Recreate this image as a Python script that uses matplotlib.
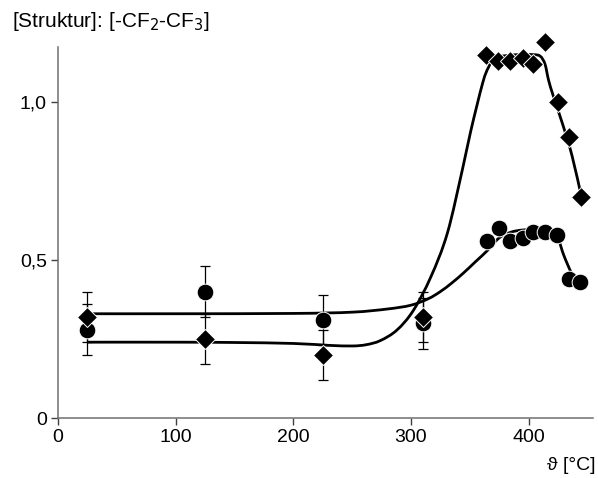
import matplotlib.pyplot as plt
from matplotlib.path import Path
from matplotlib.patches import PathPatch

plt.rcParams['font.family'] = ['Liberation Sans', 'DejaVu Sans']

# measured points, circles: -CF3 / diamonds: -CF2-
circ_x = [25, 125, 225, 310, 365, 375, 384, 395, 404, 414, 424, 434, 444]
circ_y = [0.28, 0.40, 0.31, 0.30, 0.56, 0.60, 0.56, 0.57, 0.59, 0.59, 0.58, 0.44, 0.43]
circ_err_x = [25, 125, 225, 310]
circ_err_y = [0.28, 0.40, 0.31, 0.30]
circ_err = [0.08, 0.08, 0.08, 0.08]

diam_x = [25, 125, 225, 310, 364, 374, 384, 395, 404, 414, 425, 434, 445]
diam_y = [0.32, 0.25, 0.20, 0.32, 1.15, 1.13, 1.13, 1.14, 1.12, 1.19, 1.00, 0.89, 0.70]
diam_err_x = [25, 125, 225, 310]
diam_err_y = [0.32, 0.25, 0.20, 0.32]
diam_err = [0.08, 0.08, 0.08, 0.08]

# fitted trend lines (knots of a smooth curve)
circ_fit_x = [25, 100, 200, 250, 280, 300, 315, 325, 335, 345, 355, 365, 375,
              385, 395, 410, 420, 425, 430, 437, 442]
circ_fit_y = [0.330, 0.330, 0.331, 0.335, 0.345, 0.357, 0.378, 0.400, 0.428, 0.460,
              0.495, 0.530, 0.570, 0.588, 0.595, 0.597, 0.592, 0.570, 0.515, 0.455, 0.430]
diam_fit_x = [25, 100, 150, 200, 230, 250, 262, 274, 288, 302, 317, 331, 344,
              351, 361, 366, 372, 390, 404, 410, 414, 417, 421, 429, 437, 445]
diam_fit_y = [0.240, 0.240, 0.239, 0.236, 0.230, 0.228, 0.232, 0.245, 0.278, 0.340,
              0.447, 0.585, 0.790, 0.910, 1.060, 1.110, 1.140, 1.150, 1.150, 1.145,
              1.120, 1.070, 1.020, 0.930, 0.830, 0.700]


def smooth_path(xs, ys):
    # Catmull-Rom knots turned into cubic Bezier segments
    pts = list(zip(xs, ys))
    verts = [pts[0]]
    codes = [Path.MOVETO]
    n = len(pts)
    for i in range(n - 1):
        p0 = pts[max(i - 1, 0)]
        p1 = pts[i]
        p2 = pts[i + 1]
        p3 = pts[min(i + 2, n - 1)]
        c1 = (p1[0] + (p2[0] - p0[0]) / 6, p1[1] + (p2[1] - p0[1]) / 6)
        c2 = (p2[0] - (p3[0] - p1[0]) / 6, p2[1] - (p3[1] - p1[1]) / 6)
        verts += [c1, c2, p2]
        codes += [Path.CURVE4] * 3
    return Path(verts, codes)


fig = plt.figure(figsize=(5.98, 4.78), dpi=100)
ax = fig.add_axes([0.097, 0.1255, 0.895, 0.776])

for fx, fy in [(circ_fit_x, circ_fit_y), (diam_fit_x, diam_fit_y)]:
    ax.add_patch(PathPatch(smooth_path(fx, fy), facecolor='none',
                           edgecolor='black', linewidth=2.0, zorder=2))

ax.errorbar(circ_err_x, circ_err_y, yerr=circ_err, fmt='none', ecolor='black',
            elinewidth=0.9, capsize=3.3, capthick=0.9, zorder=3)
ax.errorbar(diam_err_x, diam_err_y, yerr=diam_err, fmt='none', ecolor='black',
            elinewidth=0.9, capsize=3.3, capthick=0.9, zorder=3)

ax.plot(circ_x, circ_y, 'o', color='black', markersize=12,
        markeredgecolor='white', markeredgewidth=0.7, zorder=4, clip_on=False)
ax.plot(diam_x, diam_y, 'D', color='black', markersize=10.5,
        markeredgecolor='white', markeredgewidth=0.7, zorder=5, clip_on=False)

ax.set_xlim(0, 455)
ax.set_ylim(0, 1.174)
ax.set_xticks([0, 100, 200, 300, 400])
ax.set_yticks([0, 0.5, 1.0])
ax.set_yticklabels(['0', '0,5', '1,0'])

for s in ['top', 'right']:
    ax.spines[s].set_visible(False)
for s in ['left', 'bottom']:
    ax.spines[s].set_color('#707070')
    ax.spines[s].set_linewidth(1.1)
ax.tick_params(direction='out', length=5, width=1, color='#404040',
               labelsize=14, pad=3)

fig.text(0.02, 0.955, '[Struktur]: [-CF$_2$-CF$_3$]', fontsize=15, va='center',
         ha='left')
fig.text(0.995, 0.027, 'ϑ [°C]', fontsize=14, va='center', ha='right')

plt.savefig('out.png', dpi=100)
